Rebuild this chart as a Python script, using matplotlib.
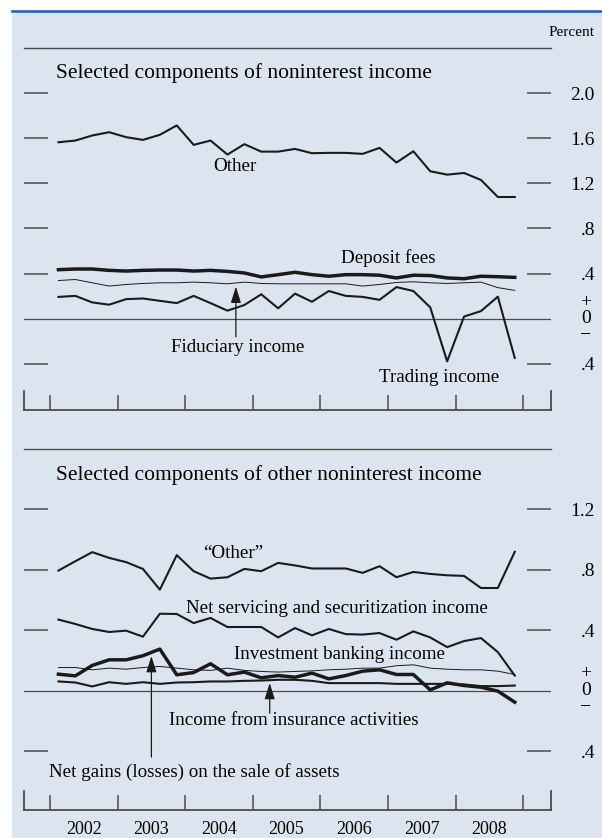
import numpy as np
import matplotlib
matplotlib.use('Agg')
import matplotlib.pyplot as plt
import matplotlib.patches as mpatches
import matplotlib.lines as mlines

plt.rcParams['font.family'] = ['Liberation Serif', 'DejaVu Serif']

# quarterly data, 2002:Q1 - 2008:Q4 (percent)
quarters = np.arange(2002, 2009, 0.25) + 0.125
years = ['2002', '2003', '2004', '2005', '2006', '2007', '2008']

# top panel: selected components of noninterest income
other_top = [1.564, 1.579, 1.624, 1.653, 1.609, 1.585, 1.630, 1.713, 1.541, 1.579,
             1.455, 1.547, 1.481, 1.481, 1.505, 1.467, 1.470, 1.470, 1.461, 1.514,
             1.384, 1.484, 1.307, 1.277, 1.292, 1.230, 1.079, 1.079]
deposit_fees = [0.435, 0.441, 0.441, 0.429, 0.423, 0.429, 0.432, 0.432, 0.423, 0.429,
                0.420, 0.406, 0.371, 0.391, 0.412, 0.391, 0.377, 0.391, 0.391, 0.386,
                0.362, 0.386, 0.383, 0.362, 0.355, 0.377, 0.373, 0.367]
fiduciary = [0.339, 0.348, 0.319, 0.290, 0.304, 0.313, 0.319, 0.319, 0.325, 0.319,
             0.310, 0.325, 0.313, 0.310, 0.310, 0.310, 0.310, 0.310, 0.290, 0.304,
             0.322, 0.328, 0.319, 0.313, 0.319, 0.325, 0.276, 0.252]
trading = [0.194, 0.203, 0.145, 0.125, 0.174, 0.180, 0.159, 0.139, 0.203, 0.139,
           0.072, 0.122, 0.217, 0.093, 0.223, 0.151, 0.246, 0.203, 0.194, 0.168,
           0.281, 0.246, 0.101, -0.377, 0.020, 0.068, 0.196, -0.347]

# bottom panel: selected components of other noninterest income
other_bot = [0.793, 0.855, 0.915, 0.877, 0.849, 0.804, 0.667, 0.895, 0.789, 0.740,
             0.749, 0.804, 0.789, 0.844, 0.827, 0.807, 0.807, 0.807, 0.778, 0.822,
             0.749, 0.784, 0.771, 0.762, 0.758, 0.678, 0.678, 0.917]
net_servicing = [0.469, 0.440, 0.407, 0.387, 0.396, 0.356, 0.508, 0.506, 0.446, 0.480,
                 0.420, 0.420, 0.420, 0.351, 0.413, 0.365, 0.407, 0.373, 0.370, 0.380,
                 0.336, 0.391, 0.351, 0.287, 0.327, 0.347, 0.254, 0.099]
inv_banking = [0.152, 0.152, 0.137, 0.148, 0.141, 0.152, 0.159, 0.148, 0.137, 0.133,
               0.148, 0.133, 0.126, 0.122, 0.126, 0.130, 0.137, 0.141, 0.148, 0.148,
               0.164, 0.170, 0.148, 0.141, 0.137, 0.137, 0.128, 0.106]
net_gains = [0.108, 0.097, 0.166, 0.203, 0.203, 0.230, 0.274, 0.104, 0.119, 0.177,
             0.104, 0.122, 0.084, 0.099, 0.088, 0.115, 0.077, 0.099, 0.128, 0.137,
             0.106, 0.106, 0.004, 0.051, 0.033, 0.022, -0.004, -0.077]
insurance = [0.060, 0.053, 0.027, 0.055, 0.044, 0.055, 0.044, 0.053, 0.055, 0.060,
             0.060, 0.064, 0.066, 0.071, 0.071, 0.064, 0.049, 0.049, 0.049, 0.049,
             0.044, 0.044, 0.044, 0.044, 0.040, 0.029, 0.029, 0.033]

top_ticks = [2.0, 1.6, 1.2, 0.8, 0.4, -0.4]
top_labels = ['2.0', '1.6', '1.2', '.8', '.4', '.4']
bot_ticks = [1.2, 0.8, 0.4, -0.4]
bot_labels = ['1.2', '.8', '.4', '.4']

BG = '#dce5ef'
AX = '#4a4a4a'
LN = '#1a1a1a'
W, H = 602, 838

fig = plt.figure(figsize=(W / 100, H / 100), dpi=100)
fig.patch.set_facecolor('white')
fig.patches.append(mpatches.Rectangle((12 / W, 0), 1 - 12 / W, 1 - 12 / H,
                                      transform=fig.transFigure, facecolor=BG,
                                      edgecolor='none', zorder=-10))
fig.lines.append(mlines.Line2D([12 / W, 1], [1 - 11.5 / H, 1 - 11.5 / H],
                               transform=fig.transFigure, color='#2a64a8', lw=1.9))
fig.text(595 / W, 1 - 33 / H, 'Percent', ha='right', va='center', fontsize=11)


def setup(ax, ylim, ticks, labels, show_years, pm):
    ax.set_facecolor('none')
    ax.set_xlim(2002 - 26 / 67.6, 2002 + 501 / 67.6)
    ax.set_ylim(*ylim)
    for s in ['top', 'bottom']:
        ax.spines[s].set_color(AX)
        ax.spines[s].set_linewidth(1.3)
    ax.spines['top'].set_linewidth(1.0)
    # short end ticks at the edges
    h = (ylim[1] - ylim[0]) * 19 / 362
    for s in ['left', 'right']:
        ax.spines[s].set_bounds(ylim[0], ylim[0] + h)
        ax.spines[s].set_color(AX)
        ax.spines[s].set_linewidth(1.3)
    ax.axhline(0, color=AX, lw=0.9, zorder=1)

    ax.set_yticks(ticks)
    ax.set_yticklabels(labels)
    ax.tick_params(axis='y', direction='in', length=17, width=1.1, color=AX,
                   left=True, right=True, labelleft=False, labelright=True,
                   pad=31.5, labelsize=14)
    for t in ax.get_yticklabels():
        t.set_horizontalalignment('right')

    ax.set_xticks(np.arange(2002, 2010), minor=True)
    ax.tick_params(axis='x', which='minor', direction='in', length=11, width=1.1,
                   color=AX, top=False)
    if show_years:
        ax.set_xticks(np.arange(2002, 2009) + 0.5)
        ax.set_xticklabels(years)
        ax.tick_params(axis='x', which='major', length=0, pad=8, labelsize=13)
    else:
        ax.set_xticks([])

    tr = ax.get_yaxis_transform()
    ax.text(1.066, pm, '+', transform=tr, ha='center', va='center', fontsize=14)
    ax.text(1.066, 0, '0', transform=tr, ha='center', va='center', fontsize=14)
    ax.text(1.066, -pm, '\u2212', transform=tr, ha='center', va='center', fontsize=14)


arrow = dict(arrowstyle='-|>,head_length=0.7,head_width=0.22', color=LN, lw=0.9,
             mutation_scale=14, shrinkA=0, shrinkB=0)
TS = 15.5   # panel titles
LS = 13.7   # series labels

# top panel
ax1 = fig.add_axes([24 / W, 1 - 410 / H, 527 / W, 362 / H])
setup(ax1, (-0.808, 2.399), top_ticks, top_labels, False, 0.145)
ax1.plot(quarters, other_top, color=LN, lw=1.5)
ax1.plot(quarters, deposit_fees, color=LN, lw=2.5)
ax1.plot(quarters, fiduciary, color=LN, lw=0.7)
ax1.plot(quarters, trading, color=LN, lw=1.5)
ax1.text(2002.09, 2.177, 'Selected components of noninterest income', ha='left',
         va='center', fontsize=TS)
ax1.text(2004.74, 1.345, 'Other', ha='center', va='center', fontsize=LS)
ax1.text(2007.0, 0.539, 'Deposit fees', ha='center', va='center', fontsize=LS)
ax1.annotate('', xy=(2004.75, 0.285), xytext=(2004.75, -0.16), arrowprops=arrow)
ax1.text(2004.78, -0.25, 'Fiduciary income', ha='center', va='center', fontsize=LS)
ax1.text(2007.75, -0.52, 'Trading income', ha='center', va='center', fontsize=LS)

# bottom panel
ax2 = fig.add_axes([24 / W, 1 - 810 / H, 527 / W, 361 / H])
setup(ax2, (-0.790, 1.597), bot_ticks, bot_labels, True, 0.11)
ax2.plot(quarters, other_bot, color=LN, lw=1.5)
ax2.plot(quarters, net_servicing, color=LN, lw=1.5)
ax2.plot(quarters, inv_banking, color=LN, lw=0.7)
ax2.plot(quarters, insurance, color=LN, lw=1.5)
ax2.plot(quarters, net_gains, color=LN, lw=2.5)
ax2.text(2002.09, 1.425, 'Selected components of other noninterest income',
         ha='left', va='center', fontsize=TS)
ax2.text(2004.71, 0.909, '\u201cOther\u201d', ha='center', va='center', fontsize=LS)
ax2.text(2006.25, 0.545, 'Net servicing and securitization income', ha='center',
         va='center', fontsize=LS)
ax2.text(2006.28, 0.235, 'Investment banking income', ha='center', va='center',
         fontsize=LS)
ax2.annotate('', xy=(2005.25, 0.05), xytext=(2005.25, -0.15), arrowprops=arrow)
ax2.text(2005.6, -0.195, 'Income from insurance activities', ha='center',
         va='center', fontsize=LS)
ax2.annotate('', xy=(2003.5, 0.228), xytext=(2003.5, -0.44), arrowprops=arrow)
ax2.text(2001.985, -0.539, 'Net gains (losses) on the sale of assets', ha='left',
         va='center', fontsize=LS)

plt.savefig('out.png', dpi=100)
